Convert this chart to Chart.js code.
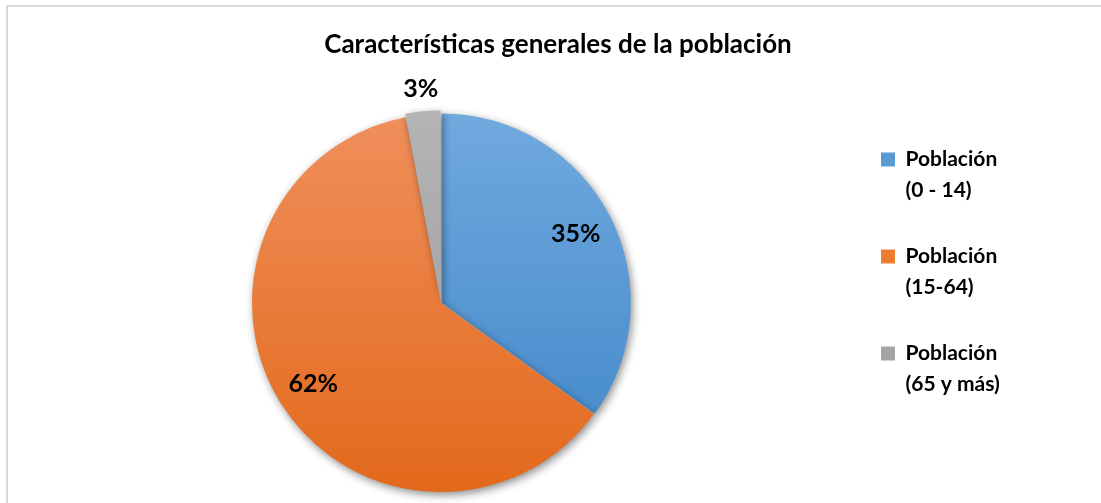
<!DOCTYPE html>
<html>
<head>
<meta charset="utf-8">
<script src="https://cdn.jsdelivr.net/npm/chart.js@4.4.1/dist/chart.umd.min.js"></script>
<style>
  html, body { margin: 0; padding: 0; background: #fff; overflow: hidden; }
  #frame { position: absolute; left: 6px; top: 5px; width: 1200px; height: 600px; border: 2px solid #d9d9d9; }
  #wrap { position: absolute; left: 0; top: 0; width: 1101px; height: 503px; }
</style>
</head>
<body>
<div id="frame"></div>
<div id="wrap"><canvas id="pieChart"></canvas></div>
<script>
// data
const title = 'Características generales de la población';
const categories = [['Población', '(0 - 14)'], ['Población', '(15-64)'], ['Población', '(65 y más)']];
const values = [35, 62, 3];

// styles
const sliceOffsets = [3, 0, 8];
const gradTop = ['#70a9de', '#f08f5c', '#b4b4b4'];
const gradBottom = ['#3f86c8', '#e3691b', '#999999'];
const legendColors = ['#5b9bd5', '#ed7d31', '#a5a5a5'];
const font = 'Lato';

// Excel-like soft shadow under the slices
const pieShadow = {
    id: 'pieShadow',
    beforeDatasetsDraw(chart) {
        const c = chart.ctx;
        c.save();
        c.shadowColor = 'rgba(0, 0, 0, 0.45)';
        c.shadowBlur = 9;
        c.shadowOffsetX = 2;
        c.shadowOffsetY = 3;
    },
    afterDatasetsDraw(chart) {
        chart.ctx.restore();
    }
};

// percentage labels, small slices get theirs outside
const sliceLabels = {
    id: 'sliceLabels',
    afterDatasetsDraw(chart) {
        const c = chart.ctx;
        const meta = chart.getDatasetMeta(0);
        const total = values.reduce((a, b) => a + b, 0);
        c.save();
        c.font = 'bold 25px ' + font;
        c.fillStyle = '#000';
        c.textAlign = 'center';
        c.textBaseline = 'middle';
        meta.data.forEach((arc, i) => {
            const p = arc.getProps(['x', 'y', 'startAngle', 'endAngle', 'outerRadius'], true);
            const mid = (p.startAngle + p.endAngle) / 2;
            const small = values[i] / total < 0.05;
            const dist = small ? p.outerRadius + sliceOffsets[i] + 18 : p.outerRadius * 0.8;
            c.fillText(Math.round(values[i] / total * 100) + '%',
                p.x + Math.cos(mid) * dist, p.y + Math.sin(mid) * dist);
        });
        c.restore();
    }
};

// legend sits left of a blank strip, as in the Excel chart
const legendWidth = {
    id: 'legendWidth',
    afterInit(chart) {
        const legend = chart.legend;
        const fit = legend.fit;
        legend.fit = function () {
            fit.call(this);
            this.width = 234;
        };
    }
};

function sliceGradient(context) {
    const i = context.dataIndex;
    const area = context.chart.chartArea;
    if (!area) return legendColors[i];
    const g = context.chart.ctx.createLinearGradient(0, area.top, 0, area.bottom);
    g.addColorStop(0, gradTop[i]);
    g.addColorStop(1, gradBottom[i]);
    return g;
}

document.addEventListener('DOMContentLoaded', function() {
    const ctx = document.getElementById('pieChart').getContext('2d');
    new Chart(ctx, {
        type: 'pie',
        data: {
            labels: categories,
            datasets: [{
                data: values,
                backgroundColor: sliceGradient,
                borderWidth: 0,
                offset: sliceOffsets,
                radius: 189
            }]
        },
        options: {
            responsive: true,
            maintainAspectRatio: false,
            animation: false,
            layout: {
                padding: { left: 36, right: 21, top: 0, bottom: 11 }
            },
            plugins: {
                title: {
                    display: true,
                    text: title,
                    color: '#000',
                    font: { family: font, size: 26, weight: 'bold' },
                    padding: { top: 29.5, bottom: 53.3 }
                },
                legend: {
                    position: 'right',
                    align: 'start',
                    fullSize: false,
                    labels: {
                        boxWidth: 14,
                        boxHeight: 14,
                        padding: 35,
                        color: '#000',
                        font: { family: font, size: 21, weight: 'bold', lineHeight: '31px' },
                        generateLabels: function(chart) {
                            return categories.map((text, i) => ({
                                text: text,
                                fillStyle: legendColors[i],
                                strokeStyle: legendColors[i],
                                lineWidth: 0,
                                fontColor: '#000',
                                hidden: false,
                                index: i
                            }));
                        }
                    }
                },
                tooltip: { enabled: false }
            }
        },
        plugins: [pieShadow, sliceLabels, legendWidth]
    });
});
</script>
</body>
</html>
